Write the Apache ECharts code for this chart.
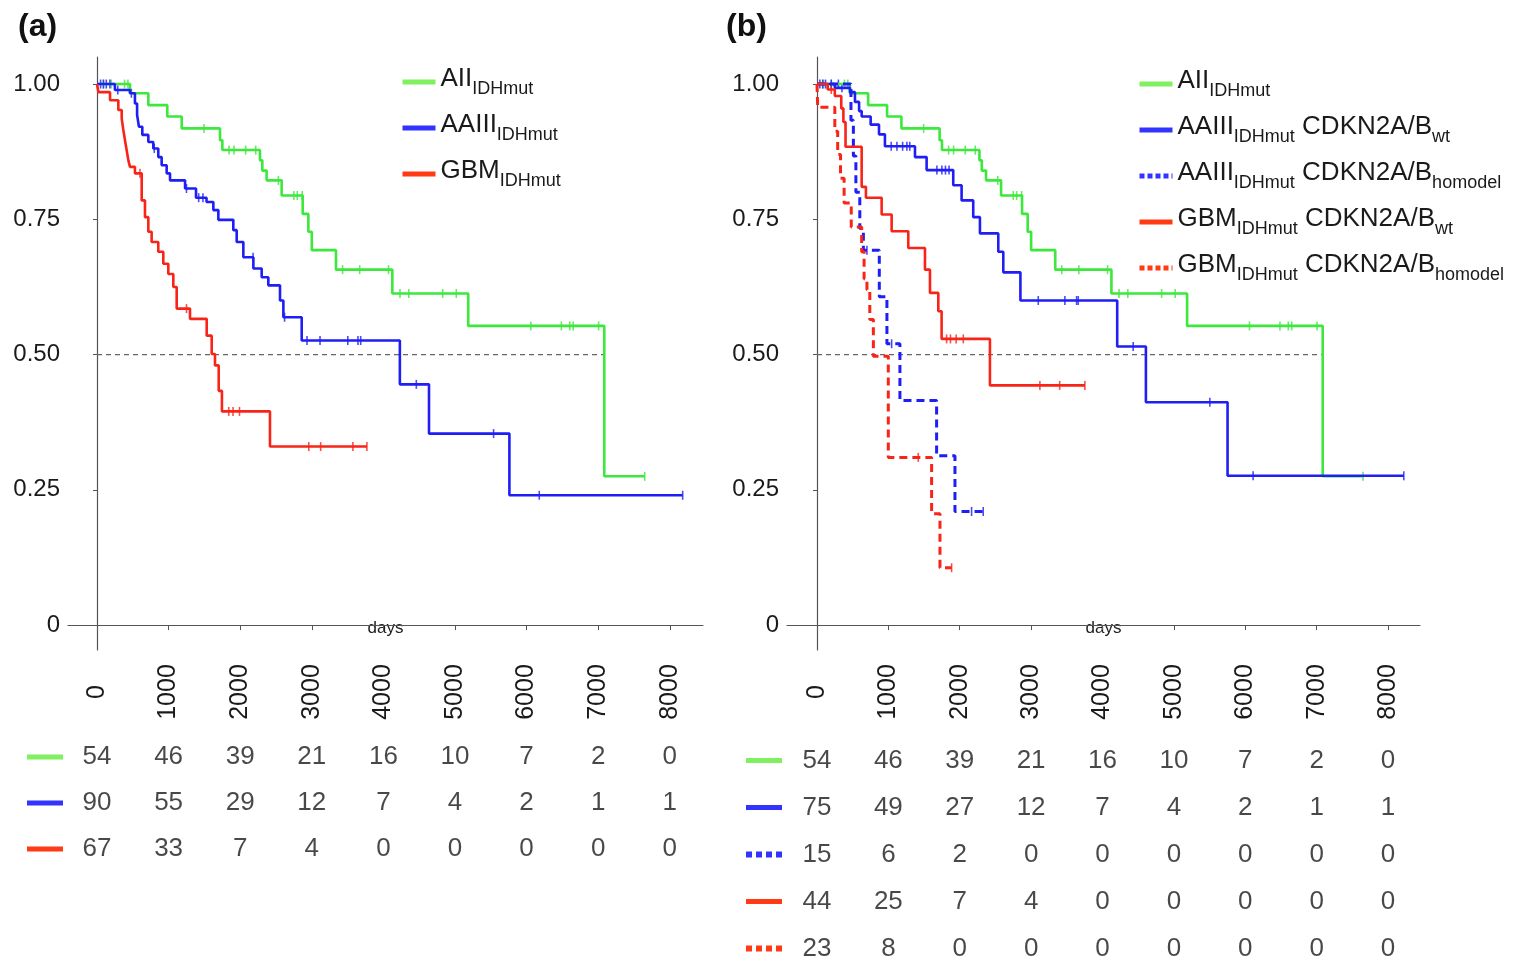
<!DOCTYPE html>
<html>
<head>
<meta charset="utf-8">
<script src="https://cdn.jsdelivr.net/npm/echarts@6.0.0/dist/echarts.min.js"></script>
<style>
  html, body { margin: 0; padding: 0; background: #fff; }
  #chart { width: 1523px; height: 963px; }
</style>
</head>
<body>
<div id="chart"></div>
<script>
const FONT = '"Liberation Sans", Arial, sans-serif';

// shared axis values
const riskTimes = [0, 1000, 2000, 3000, 4000, 5000, 6000, 7000, 8000];
const yTicks = [0, 0.25, 0.5, 0.75, 1];
const medianLine = [[0, 0.5], [7085, 0.5]];

// AII IDHmut (same cohort in both panels): [day, survival]
const aiiCurve = [[0, 1], [461, 0.983], [717, 0.961], [982, 0.94], [1183, 0.918], [1718, 0.896],
  [1751, 0.878], [2276, 0.859], [2309, 0.84], [2369, 0.822], [2579, 0.794], [2873, 0.76],
  [2952, 0.727], [3000, 0.693], [3338, 0.657], [4125, 0.613], [5185, 0.553], [7085, 0.275], [7650, 0.275]];
const aiiCensor = [90, 200, 385, 432, 1494, 1844, 1914, 2077, 2217, 2533, 2750, 2797, 2867,
  3430, 3669, 4071, 4232, 4355, 4828, 5018, 6059, 6486, 6603, 6651, 7006, 7650];

// panel (a) AAIII IDHmut
const aaiiiCurve = [[0, 1], [250, 0.989], [461, 0.983], [530, 0.964], [560, 0.943], [586, 0.921],
  [633, 0.906], [717, 0.893], [786, 0.881], [856, 0.865], [903, 0.85], [973, 0.835], [1020, 0.822],
  [1230, 0.807], [1383, 0.79], [1530, 0.782], [1625, 0.767], [1695, 0.749], [1904, 0.73],
  [1951, 0.708], [2044, 0.68], [2184, 0.659], [2300, 0.643], [2393, 0.628], [2556, 0.6],
  [2603, 0.569], [2859, 0.526], [4230, 0.445], [4637, 0.354], [5760, 0.24], [8180, 0.24]];
const aaiiiCensor = [50, 90, 130, 180, 290, 480, 800, 1250, 1420, 1480, 2180, 2620,
  2933, 3115, 3503, 3645, 3683, 4460, 5539, 6177, 8180];

// panel (a) GBM IDHmut
const gbmCurve = [[0, 1], [20, 0.985], [182, 0.97], [298, 0.952], [345, 0.936], [368, 0.915],
  [391, 0.896], [414, 0.878], [438, 0.859], [461, 0.847], [530, 0.835], [624, 0.785], [670, 0.754],
  [717, 0.727], [763, 0.708], [856, 0.69], [926, 0.668], [996, 0.649], [1066, 0.625], [1113, 0.585],
  [1299, 0.566], [1532, 0.535], [1602, 0.501], [1648, 0.48], [1700, 0.433], [1745, 0.395],
  [2416, 0.33], [3770, 0.33]];
const gbmCensor = [600, 1250, 1840, 1900, 1990, 2958, 3124, 3574, 3770];

// panel (b) AAIII CDKN2A/B wt
const aaiiiWtCurve = [[0, 1], [250, 0.993], [462, 0.985], [532, 0.967], [590, 0.95], [626, 0.94],
  [752, 0.925], [869, 0.907], [952, 0.885], [1373, 0.865], [1536, 0.841], [1909, 0.813],
  [2026, 0.785], [2189, 0.754], [2283, 0.724], [2540, 0.69], [2610, 0.652], [2850, 0.6],
  [4206, 0.515], [4608, 0.412], [5752, 0.276], [8221, 0.276]];
const aaiiiWtCensor = [40, 80, 120, 200, 350, 1040, 1120, 1200, 1260, 1300, 1680, 1750, 1800,
  1850, 3100, 3473, 3637, 3660, 4430, 5504, 6110, 8221];

// panel (b) AAIII CDKN2A/B homodel
const aaiiiDelCurve = [[0, 1], [476, 0.933], [510, 0.867], [545, 0.8], [600, 0.733], [650, 0.693],
  [873, 0.607], [980, 0.52], [1162, 0.415], [1676, 0.313], [1933, 0.21], [2329, 0.21]];
const aaiiiDelCensor = [300, 700, 1046, 2166, 2329];

// panel (b) GBM CDKN2A/B wt
const gbmWtCurve = [[0, 1], [150, 0.99], [250, 0.978], [340, 0.955], [370, 0.93], [400, 0.884],
  [626, 0.81], [686, 0.79], [906, 0.759], [1046, 0.728], [1279, 0.697], [1513, 0.657],
  [1583, 0.614], [1700, 0.58], [1746, 0.529], [2423, 0.443], [3753, 0.443]];
const gbmWtCensor = [200, 1816, 1870, 1950, 2050, 3123, 3400, 3753];

// panel (b) GBM CDKN2A/B homodel
const gbmDelCurve = [[0, 1], [10, 0.957], [250, 0.913], [290, 0.87], [330, 0.826], [380, 0.78],
  [480, 0.736], [626, 0.69], [660, 0.64], [700, 0.62], [740, 0.565], [790, 0.497], [999, 0.31],
  [1606, 0.206], [1723, 0.106], [1886, 0.106]];
const gbmDelCensor = [1419, 1886];

// numbers at risk
const riskA_aii = [54, 46, 39, 21, 16, 10, 7, 2, 0];
const riskA_aaiii = [90, 55, 29, 12, 7, 4, 2, 1, 1];
const riskA_gbm = [67, 33, 7, 4, 0, 0, 0, 0, 0];
const riskB_aii = [54, 46, 39, 21, 16, 10, 7, 2, 0];
const riskB_aaiiiWt = [75, 49, 27, 12, 7, 4, 2, 1, 1];
const riskB_aaiiiDel = [15, 6, 2, 0, 0, 0, 0, 0, 0];
const riskB_gbmWt = [44, 25, 7, 4, 0, 0, 0, 0, 0];
const riskB_gbmDel = [23, 8, 0, 0, 0, 0, 0, 0, 0];

const GREEN = '#3be83b', BLUE = '#1e1ef5', RED = '#f82418';
const DASH = [8, 5];

function survAt(curve, t) {
  let s = curve[0][1];
  for (const [x, y] of curve) { if (x <= t) s = y; else break; }
  return s;
}

function km(name, curve, censor, color, dashed, gi) {
  return [{
    name, type: 'line', step: 'end', xAxisIndex: gi, yAxisIndex: gi,
    data: curve, symbol: 'none', color,
    lineStyle: { color, width: dashed ? 3 : 2.6, type: dashed ? DASH : 'solid' }
  }, {
    type: 'scatter', xAxisIndex: gi, yAxisIndex: gi,
    data: censor.map(t => [t, survAt(curve, t)]),
    symbol: 'rect', symbolSize: [1.6, 9], itemStyle: { color }
  }];
}

function riskSeries(rows, gi) {
  const data = [];
  rows.forEach((r, ri) => r.forEach((v, i) => data.push([riskTimes[i], ri, v])));
  return {
    type: 'scatter', xAxisIndex: gi, yAxisIndex: gi, data, symbolSize: 0,
    label: { show: true, position: 'inside', formatter: p => String(p.value[2]),
      fontFamily: FONT, fontSize: 26, color: '#1a1a1a' }
  };
}

const legendText = {
  'AII a': '{m|AII}{s|IDHmut}',
  'AAIII a': '{m|AAIII}{s|IDHmut}',
  'GBM a': '{m|GBM}{s|IDHmut}',
  'AII b': '{m|AII}{s|IDHmut}',
  'AAIII wt': '{m|AAIII}{s|IDHmut}{m| CDKN2A/B}{s|wt}',
  'AAIII del': '{m|AAIII}{s|IDHmut}{m| CDKN2A/B}{s|homodel}',
  'GBM wt': '{m|GBM}{s|IDHmut}{m| CDKN2A/B}{s|wt}',
  'GBM del': '{m|GBM}{s|IDHmut}{m| CDKN2A/B}{s|homodel}'
};
const legendRich = {
  m: { fontFamily: FONT, fontSize: 26, color: '#1a1a1a', verticalAlign: 'bottom', padding: [0, 0, 6, 0] },
  s: { fontFamily: FONT, fontSize: 18, color: '#1a1a1a', verticalAlign: 'bottom' }
};

function keyRich() {
  const solid = c => ({ width: 36, height: 5, backgroundColor: c });
  const sq = c => ({ width: 6, height: 6, backgroundColor: c });
  return {
    kg: solid('#80f060'), kb: solid('#3333ff'), kr: solid('#ff3a14'),
    db: sq('#3333ff'), dr: sq('#ff3a14'), gap: { width: 4, height: 6 }
  };
}
const dashKey = k => `{${k}| }{gap| }{${k}| }{gap| }{${k}| }{gap| }{${k}| }`;
const rowKeysA = ['{kg| }', '{kb| }', '{kr| }'];
const rowKeysB = ['{kg| }', '{kb| }', dashKey('db'), '{kr| }', dashKey('dr')];

function plotX(gi, min, max) {
  return {
    gridIndex: gi, type: 'value', min, max,
    name: 'days', nameLocation: 'middle', nameGap: -30, nameMoveOverlap: false,
    nameTextStyle: { fontFamily: FONT, fontSize: 17, color: '#222' },
    axisLine: { lineStyle: { color: '#555', width: 1.2 } },
    axisTick: { show: true, length: 5, customValues: riskTimes, lineStyle: { color: '#555' } },
    axisLabel: { customValues: riskTimes, rotate: 90, align: 'center', verticalAlign: 'middle',
      margin: 42, fontFamily: FONT, fontSize: 25, color: '#1a1a1a', formatter: v => String(v) },
    splitLine: { show: false }
  };
}
function plotY(gi) {
  return {
    gridIndex: gi, type: 'value', min: -0.046, max: 1.05,
    axisLine: { show: true, lineStyle: { color: '#555', width: 1.2 } },
    axisTick: { show: true, length: 4, customValues: yTicks, lineStyle: { color: '#555' } },
    axisLabel: { customValues: yTicks, margin: 8, fontFamily: FONT, fontSize: 24, color: '#1a1a1a',
      formatter: v => v === 0 ? '0' : v.toFixed(2) },
    splitLine: { show: false }
  };
}
function tableX(gi, min, max) {
  return { gridIndex: gi, type: 'value', min, max, show: false, splitLine: { show: false } };
}
function tableY(gi, keys) {
  return {
    gridIndex: gi, type: 'category', inverse: true, data: keys.map((k, i) => String(i)),
    axisLine: { show: false }, axisTick: { show: false }, splitLine: { show: false },
    axisLabel: { margin: 5, formatter: (v) => keys[+v], rich: keyRich() }
  };
}
function medianSeries(gi) {
  return { type: 'line', xAxisIndex: gi, yAxisIndex: gi, data: medianLine, symbol: 'none',
    lineStyle: { color: '#666', width: 1.2, type: [5, 4] }, z: 1 };
}

const series = [
  medianSeries(0),
  ...km('AII a', aiiCurve, aiiCensor, GREEN, false, 0),
  ...km('AAIII a', aaiiiCurve, aaiiiCensor, BLUE, false, 0),
  ...km('GBM a', gbmCurve, gbmCensor, RED, false, 0),
  riskSeries([riskA_aii, riskA_aaiii, riskA_gbm], 1),
  medianSeries(2),
  ...km('AII b', aiiCurve, aiiCensor, GREEN, false, 2),
  ...km('AAIII wt', aaiiiWtCurve, aaiiiWtCensor, BLUE, false, 2),
  ...km('AAIII del', aaiiiDelCurve, aaiiiDelCensor, BLUE, true, 2),
  ...km('GBM wt', gbmWtCurve, gbmWtCensor, RED, false, 2),
  ...km('GBM del', gbmDelCurve, gbmDelCensor, RED, true, 2),
  riskSeries([riskB_aii, riskB_aaiiiWt, riskB_aaiiiDel, riskB_gbmWt, riskB_gbmDel], 3)
];

function legendItem(name, color, dashed) {
  return { name, itemStyle: { opacity: 0 },
    lineStyle: { color, width: 5, type: dashed ? [5, 3] : 'solid' } };
}
const legendBase = {
  orient: 'vertical', itemWidth: 33, itemHeight: 6, itemGap: 14, padding: 0,
  formatter: n => legendText[n],
  textStyle: { rich: legendRich },
  lineStyle: { width: 5 },
  selectedMode: false
};

const chart = echarts.init(document.getElementById('chart'));
chart.setOption({
  animation: false,
  backgroundColor: '#fff',
  title: [
    { text: '(a)', left: 13, top: 6, textStyle: { fontFamily: FONT, fontSize: 32, fontWeight: 'bold', color: '#111' } },
    { text: '(b)', left: 721, top: 6, textStyle: { fontFamily: FONT, fontSize: 32, fontWeight: 'bold', color: '#111' } }
  ],
  legend: [
    Object.assign({}, legendBase, { left: 400, top: 66,
      data: [legendItem('AII a', '#80f060'), legendItem('AAIII a', '#3333ff'), legendItem('GBM a', '#ff3a14')] }),
    Object.assign({}, legendBase, { left: 1137, top: 68,
      data: [legendItem('AII b', '#80f060'), legendItem('AAIII wt', '#3333ff'),
        legendItem('AAIII del', '#3333ff', true), legendItem('GBM wt', '#ff3a14'),
        legendItem('GBM del', '#ff3a14', true)] })
  ],
  grid: [
    { left: 68, top: 57, width: 635, height: 593, outerBoundsMode: 'none' },
    { left: 68, top: 734, width: 635, height: 138, outerBoundsMode: 'none' },
    { left: 787, top: 57, width: 633, height: 593, outerBoundsMode: 'none' },
    { left: 787, top: 737, width: 633, height: 235, outerBoundsMode: 'none' }
  ],
  xAxis: [plotX(0, -405, 8464), tableX(1, -405, 8464), plotX(2, -420, 8448), tableX(3, -420, 8448)],
  yAxis: [plotY(0), tableY(1, rowKeysA), plotY(2), tableY(3, rowKeysB)],
  series
});
</script>
</body>
</html>
